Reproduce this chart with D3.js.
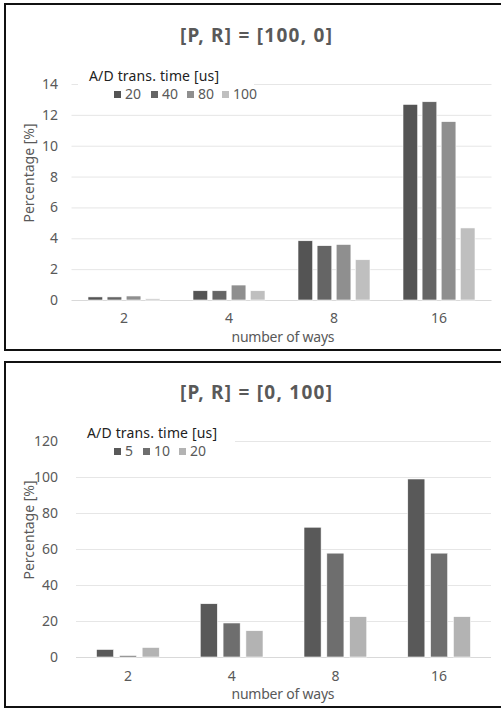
<!DOCTYPE html>
<html>
<head>
<meta charset="utf-8">
<script src="https://cdn.jsdelivr.net/npm/d3@7"></script>
<style>
  body { margin: 0; background: #fff; }
  svg { display: block; }
  text { font-family: "Noto Sans", "Open Sans", sans-serif; }
</style>
</head>
<body>
<svg id="chart" width="501" height="709"></svg>
<script>
// ---- data ----
const categories = ["2", "4", "8", "16"];

const topTitle = "[P, R] = [100, 0]";
const topSeriesNames = ["20", "40", "80", "100"];
const topSeriesColors = ["#545454", "#656565", "#8f8f8f", "#bfbfbf"];
const topValues20 = [0.2, 0.6, 3.84, 12.68];
const topValues40 = [0.2, 0.6, 3.52, 12.85];
const topValues80 = [0.26, 0.97, 3.6, 11.56];
const topValues100 = [0.08, 0.6, 2.61, 4.67];
const topTicks = [0, 2, 4, 6, 8, 10, 12, 14];

const botTitle = "[P, R] = [0, 100]";
const botSeriesNames = ["5", "10", "20"];
const botSeriesColors = ["#595959", "#6e6e6e", "#b3b3b3"];
const botValues5 = [4.2, 29.6, 72.1, 98.9];
const botValues10 = [0.8, 18.9, 57.7, 57.7];
const botValues20 = [5.3, 14.6, 22.4, 22.4];
const botTicks = [0, 20, 40, 60, 80, 100, 120];

const legendTitle = "A/D trans. time [us]";
const xTitle = "number of ways";
const yTitle = "Percentage [%]";

const svg = d3.select("#chart");

function panel(cfg) {
  const g = svg.append("g");
  // frame
  g.append("rect").attr("x", 5).attr("y", cfg.frameTop).attr("width", 500).attr("height", cfg.frameH)
    .attr("fill", "#fff").attr("stroke", "#111").attr("stroke-width", 2);

  const x = d3.scaleBand().domain(categories).range([cfg.x0, cfg.x1]).paddingInner(0).paddingOuter(0);
  const y = d3.scaleLinear().domain([0, cfg.ticks[cfg.ticks.length - 1]]).range([cfg.y0, cfg.yTop]);
  const xs = d3.scaleBand().domain(cfg.names).range([cfg.gpad, x.bandwidth() - cfg.gpad]).paddingInner(cfg.inner);

  // gridlines
  g.append("g").selectAll("line").data(cfg.ticks).join("line")
    .attr("x1", cfg.x0).attr("x2", cfg.x1)
    .attr("y1", d => y(d) + 0.5).attr("y2", d => y(d) + 0.5)
    .attr("stroke", d => d === 0 ? "#d9d9d9" : "#e6e6e6").attr("stroke-width", 1);

  // y tick labels
  const yAxis = d3.axisLeft(y).tickValues(cfg.ticks).tickSize(0).tickPadding(0);
  const ya = g.append("g").attr("transform", `translate(${cfg.ylabX},0)`).call(yAxis);
  ya.select(".domain").remove();
  ya.selectAll("text").attr("fill", "#595959").style("font-size", "14px")
    .style("font-family", '"Noto Sans", sans-serif');

  // bars
  const series = cfg.names.map((n, i) => ({ name: n, color: cfg.colors[i], values: cfg.values[i] }));
  g.append("g").selectAll("g").data(series).join("g")
    .attr("fill", d => d.color)
    .selectAll("rect").data(s => s.values.map((v, j) => ({ s: s.name, c: categories[j], v })))
    .join("rect")
    .attr("x", d => x(d.c) + xs(d.s))
    .attr("width", xs.bandwidth())
    .attr("y", d => y(d.v))
    .attr("height", d => y(0) - y(d.v))
    .attr("stroke", "#fff").attr("stroke-width", 0.6);

  // x tick labels
  const xAxis = d3.axisBottom(x).tickSize(0).tickPadding(0);
  const xa = g.append("g").attr("transform", `translate(0,${cfg.xlabY})`).call(xAxis);
  xa.select(".domain").remove();
  xa.selectAll("text").attr("fill", "#595959").style("font-size", "14px")
    .style("font-family", '"Noto Sans", sans-serif');

  // title
  g.append("text").attr("x", cfg.titleX).attr("y", cfg.titleY).attr("text-anchor", "middle")
    .attr("fill", "#595959").style("font-size", "19px").style("font-weight", "bold")
    .attr("textLength", 152).attr("lengthAdjust", "spacing")
    .text(cfg.title);

  // axis titles
  g.append("text").attr("x", 283).attr("y", cfg.xTitleY).attr("text-anchor", "middle")
    .attr("fill", "#595959").style("font-size", "14px")
    .attr("textLength", 103).attr("lengthAdjust", "spacing").text(xTitle);
  g.append("text").attr("transform", `translate(34,${cfg.yTitleY}) rotate(-90)`).attr("text-anchor", "middle")
    .attr("fill", "#595959").style("font-size", "14px")
    .attr("textLength", 99).attr("lengthAdjust", "spacing").text(yTitle);

  // legend
  const lg = g.append("g");
  lg.append("rect").attr("x", cfg.legBg[0]).attr("y", cfg.legBg[1]).attr("width", cfg.legBg[2]).attr("height", cfg.legBg[3]).attr("fill", "#fff");
  lg.append("text").attr("x", cfg.legTitleX).attr("y", cfg.legTitleY).attr("fill", "#222")
    .style("font-size", "14px").attr("textLength", 130).attr("lengthAdjust", "spacing").text(legendTitle);
  const items = lg.selectAll("g.item").data(series).join("g").attr("class", "item")
    .attr("transform", (d, i) => `translate(${cfg.legItemX[i]},${cfg.legItemY})`);
  items.append("rect").attr("x", 0).attr("y", -8).attr("width", 7).attr("height", 7).attr("fill", d => d.color);
  items.append("text").attr("x", 11).attr("y", 0).attr("fill", "#595959").style("font-size", "14px").text(d => d.name);
}

panel({
  frameTop: 4, frameH: 346,
  x0: 71.5, x1: 491.5, y0: 300, yTop: 84,
  gpad: 16.5, inner: 0.23,
  names: topSeriesNames, colors: topSeriesColors,
  values: [topValues20, topValues40, topValues80, topValues100],
  ticks: topTicks, ylabX: 58, xlabY: 313,
  title: topTitle, titleX: 256, titleY: 42,
  xTitleY: 342, yTitleY: 173,
  legBg: [78, 62, 176, 40], legTitleX: 89, legTitleY: 81,
  legItemX: [114, 151, 187, 222], legItemY: 99
});

panel({
  frameTop: 362, frameH: 345,
  x0: 76, x1: 491, y0: 657, yTop: 441,
  gpad: 20.5, inner: 0.25,
  names: botSeriesNames, colors: botSeriesColors,
  values: [botValues5, botValues10, botValues20],
  ticks: botTicks, ylabX: 58, xlabY: 671,
  title: botTitle, titleX: 256, titleY: 399,
  xTitleY: 699, yTitleY: 530,
  legBg: [72, 420, 163, 40], legTitleX: 87, legTitleY: 438,
  legItemX: [114, 143, 179], legItemY: 456
});
</script>
</body>
</html>
